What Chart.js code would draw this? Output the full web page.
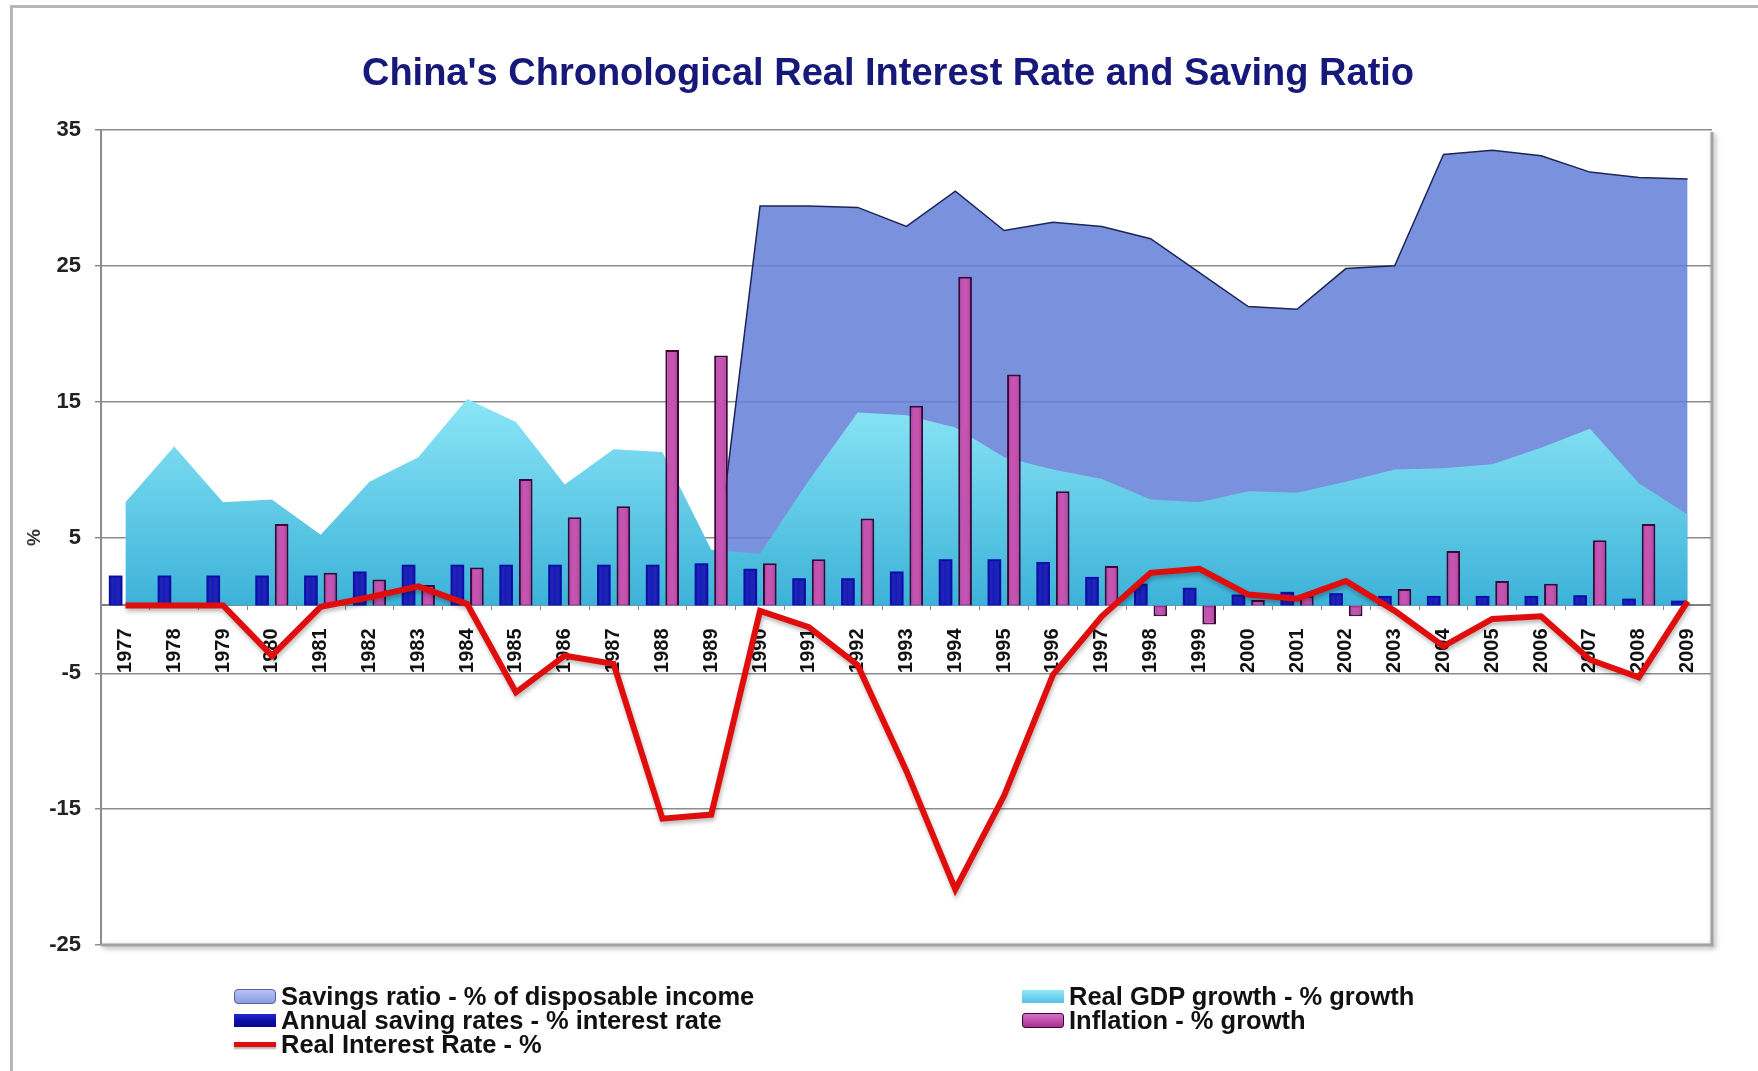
<!DOCTYPE html>
<html>
<head>
<meta charset="utf-8">
<title>China's Chronological Real Interest Rate and Saving Ratio</title>
<script src="https://cdn.jsdelivr.net/npm/chart.js@4.4.1/dist/chart.umd.min.js"></script>
<style>
  html, body { margin: 0; padding: 0; background: #fff; overflow: hidden; }
  #wrap { position: relative; width: 1758px; height: 1071px; overflow: hidden; }
  #frame { position: absolute; left: 10px; top: 5px; width: 1900px; height: 1200px;
           border-left: 3px solid #b7b7b7; border-top: 3px solid #b7b7b7; }
  #chart { position: absolute; left: 0; top: 0; }
  #title { position: absolute; left: 238px; width: 1300px; top: 51px; height: 44px; line-height: 44px;
           text-align: center; font: bold 38px "Liberation Sans", Arial, Helvetica, sans-serif;
           color: #17197a; white-space: nowrap; }
  .legend-item { position: absolute; display: flex; align-items: center; height: 24px;
                 font: bold 25.5px "Liberation Sans", Arial, Helvetica, sans-serif; color: #111;
                 white-space: nowrap; }
  .swatch { width: 42px; box-sizing: border-box; margin-right: 5px; flex: none; }
</style>
</head>
<body>
<div id="wrap">
  <div id="frame"></div>
  <canvas id="chart" width="1758" height="1071"></canvas>
  <div id="title">China's Chronological Real Interest Rate and Saving Ratio</div>
  <div id="legend"></div>
</div>
<script>
const FONT = '"Liberation Sans", Arial, Helvetica, sans-serif';

const years = [
  "1977", "1978", "1979", "1980", "1981", "1982", "1983", "1984", "1985", "1986", "1987",
  "1988", "1989", "1990", "1991", "1992", "1993", "1994", "1995", "1996", "1997", "1998",
  "1999", "2000", "2001", "2002", "2003", "2004", "2005", "2006", "2007", "2008", "2009"
];

// savings ratio only starts in 1990 (1989 is the zero it rises from)
const savingsRatio = [
  null, null, null, null, null, null, null, null, null, null, null, null, 0,
  29.4, 29.4, 29.3, 27.9, 30.5, 27.6, 28.2, 27.9, 27.0, 24.5,
  22.0, 21.8, 24.8, 25.0, 33.2, 33.5, 33.1, 31.9, 31.5, 31.4
];

const gdpGrowth = [
  7.6, 11.7, 7.6, 7.8, 5.2, 9.1, 10.9, 15.2, 13.5, 8.9, 11.5, 11.3, 4.1,
  3.8, 9.2, 14.2, 14.0, 13.1, 10.9, 10.0, 9.3, 7.8, 7.6,
  8.4, 8.3, 9.1, 10.0, 10.1, 10.4, 11.6, 13.0, 9.0, 6.7
];

const savingRates = [
  2.2, 2.2, 2.2, 2.2, 2.2, 2.5, 3.0, 3.0, 3.0, 3.0, 3.0, 3.0, 3.1,
  2.7, 2.0, 2.0, 2.5, 3.4, 3.4, 3.2, 2.1, 1.6, 1.3,
  0.8, 1.0, 0.9, 0.7, 0.7, 0.7, 0.7, 0.75, 0.5, 0.35
];

const inflation = [
  null, null, null, 6.0, 2.4, 1.9, 1.5, 2.8, 9.3, 6.5, 7.3, 18.8, 18.4,
  3.1, 3.4, 6.4, 14.7, 24.2, 17.0, 8.4, 2.9, -0.8, -1.4,
  0.4, 0.7, -0.8, 1.2, 4.0, 1.8, 1.6, 4.8, 6.0, null
];

const realRate = [
  0, 0, 0, -3.7, -0.1, 0.6, 1.4, 0.1, -6.4, -3.7, -4.3, -15.7, -15.4,
  -0.4, -1.6, -4.4, -12.2, -20.9, -14.0, -5.1, -0.8, 2.4, 2.7,
  0.8, 0.5, 1.8, -0.4, -3.0, -1.0, -0.8, -4.0, -5.3, 0.3
];

const yTickValues = [-25, -15, -5, 5, 15, 25, 35];

Chart.defaults.font.family = FONT;

// light-to-deep cyan wash for the GDP area, fixed to the value scale
function gdpFill(context) {
  const chart = context.chart;
  if (!chart.chartArea) return '#5cc8e6';
  const y = chart.scales.y;
  const g = chart.ctx.createLinearGradient(0, y.getPixelForValue(15), 0, y.getPixelForValue(0));
  g.addColorStop(0, '#8ae5f6');
  g.addColorStop(1, '#3cb2d8');
  return g;
}

// drop shadow under the real interest rate line
const lineShadow = {
  id: 'lineShadow',
  beforeDatasetDraw(chart, args) {
    if (!chart.data.datasets[args.index].shadow) return;
    const c = chart.ctx;
    c.save();
    c.shadowColor = 'rgba(0,0,0,0.28)';
    c.shadowBlur = 4;
    c.shadowOffsetX = 1;
    c.shadowOffsetY = 3;
  },
  afterDatasetDraw(chart, args) {
    if (chart.data.datasets[args.index].shadow) chart.ctx.restore();
  }
};

// soft highlight down the middle of each bar
const barSheen = {
  id: 'barSheen',
  afterDatasetDraw(chart, args) {
    const ds = chart.data.datasets[args.index];
    if (!ds.sheen) return;
    const c = chart.ctx;
    c.save();
    args.meta.data.forEach(bar => {
      const { x, y, base, width } = bar.getProps(['x', 'y', 'base', 'width'], true);
      if (!isFinite(y) || Math.abs(base - y) < 4) return;
      const left = x - width / 2;
      const top = Math.min(y, base);
      const h = Math.abs(base - y);
      const g = c.createLinearGradient(left, 0, left + width, 0);
      g.addColorStop(0, 'rgba(255,255,255,0)');
      g.addColorStop(0.45, ds.sheen);
      g.addColorStop(1, 'rgba(255,255,255,0)');
      c.fillStyle = g;
      c.fillRect(left + 2, top + 2, width - 4, h - 3);
    });
    c.restore();
  }
};

// right and bottom edge of the plot with a shadow
const plotFrame = {
  id: 'plotFrame',
  afterDraw(chart) {
    const { ctx: c, chartArea: a } = chart;
    c.save();
    c.strokeStyle = '#a2a2a2';
    c.lineWidth = 3;
    c.shadowColor = 'rgba(0,0,0,0.35)';
    c.shadowBlur = 5;
    c.shadowOffsetX = 2;
    c.shadowOffsetY = 2;
    c.beginPath();
    c.moveTo(a.right, a.top + 2);
    c.lineTo(a.right, a.bottom);
    c.lineTo(a.left, a.bottom);
    c.stroke();
    c.restore();
  }
};

const chart = new Chart(document.getElementById('chart'), {
  data: {
    labels: years,
    datasets: [
      {
        type: 'line',
        label: 'Real Interest Rate - %',
        data: realRate,
        borderColor: '#e00d0d',
        borderWidth: 6,
        pointRadius: 0,
        tension: 0,
        fill: false,
        shadow: true,
        order: 1
      },
      {
        type: 'bar',
        label: 'Annual saving rates - % interest rate',
        data: savingRates,
        backgroundColor: '#0a0ea8',
        sheen: 'rgba(40,50,225,0.3)',
        categoryPercentage: 0.8,
        barPercentage: 0.7,
        order: 2
      },
      {
        type: 'bar',
        label: 'Inflation - % growth',
        data: inflation,
        backgroundColor: '#ab3096',
        borderColor: '#3a0836',
        borderWidth: 2,
        sheen: 'rgba(240,120,215,0.45)',
        categoryPercentage: 0.8,
        barPercentage: 0.7,
        order: 3
      },
      {
        type: 'line',
        label: 'Real GDP growth - % growth',
        data: gdpGrowth,
        fill: 'origin',
        backgroundColor: gdpFill,
        borderColor: 'rgba(0,0,0,0)',
        borderWidth: 0,
        pointRadius: 0,
        tension: 0,
        order: 4
      },
      {
        type: 'line',
        label: 'Savings ratio - % of disposable income',
        data: savingsRatio,
        fill: 'origin',
        backgroundColor: 'rgba(104,131,218,0.88)',
        borderColor: '#1c2458',
        borderWidth: 1.5,
        pointRadius: 0,
        tension: 0,
        order: 5
      }
    ]
  },
  options: {
    responsive: false,
    animation: false,
    layout: { padding: { left: 13, right: 46, top: 130, bottom: 126 } },
    plugins: {
      legend: { display: false },
      tooltip: { enabled: false },
      title: { display: false }
    },
    scales: {
      x: {
        type: 'category',
        position: { y: 0 },
        offset: true,
        grid: { display: true, drawOnChartArea: false, offset: true, tickLength: 4, color: '#8a8a8a' },
        border: { display: true, color: '#808080', width: 2 },
        ticks: {
          autoSkip: false,
          minRotation: 90,
          maxRotation: 90,
          padding: 19,
          color: '#111',
          font: { size: 20, weight: 'bold' }
        }
      },
      y: {
        min: yTickValues[0],
        max: yTickValues[yTickValues.length - 1],
        afterFit(scale) { scale.width = 88; },
        ticks: {
          stepSize: yTickValues[1] - yTickValues[0],
          padding: 14,
          color: '#222',
          font: { size: 22, weight: 'bold' }
        },
        grid: { color: '#8c8c8c', lineWidth: 1.5, tickLength: 6 },
        border: { color: '#8c8c8c', width: 2 },
        title: {
          display: true,
          text: '%',
          color: '#333',
          font: { size: 19, weight: 'bold' },
          padding: { top: 10, bottom: 0 }
        }
      }
    }
  },
  plugins: [lineShadow, barSheen, plotFrame]
});

// two-column legend under the plot, built from the datasets
const legendSlots = {
  'Savings ratio - % of disposable income': { col: 0, row: 0,
    css: 'height:15px;background:linear-gradient(#b6c2f6,#8c9ce2);border:1.5px solid #56609a;border-radius:4px;' },
  'Annual saving rates - % interest rate': { col: 0, row: 1,
    css: 'height:13px;background:linear-gradient(#2228d0,#0a0ea8 55%,#06098a);' },
  'Real Interest Rate - %': { col: 0, row: 2,
    css: 'height:5px;background:#e00d0d;box-shadow:0 2px 2px rgba(0,0,0,0.3);' },
  'Real GDP growth - % growth': { col: 1, row: 0,
    css: 'height:13px;background:linear-gradient(#93e7f8,#54c4e5);' },
  'Inflation - % growth': { col: 1, row: 1,
    css: 'height:15px;background:linear-gradient(#d670c6,#a8308f);border:1.5px solid #3a0836;border-radius:3px;' }
};
const colLeft = [234, 1022];
const rowTop = [984, 1008, 1032];

const legendEl = document.getElementById('legend');
chart.data.datasets.forEach(ds => {
  const slot = legendSlots[ds.label];
  const item = document.createElement('div');
  item.className = 'legend-item';
  item.style.left = colLeft[slot.col] + 'px';
  item.style.top = rowTop[slot.row] + 'px';
  item.innerHTML = `<span class="swatch" style="${slot.css}"></span><span>${ds.label}</span>`;
  legendEl.appendChild(item);
});
</script>
</body>
</html>
